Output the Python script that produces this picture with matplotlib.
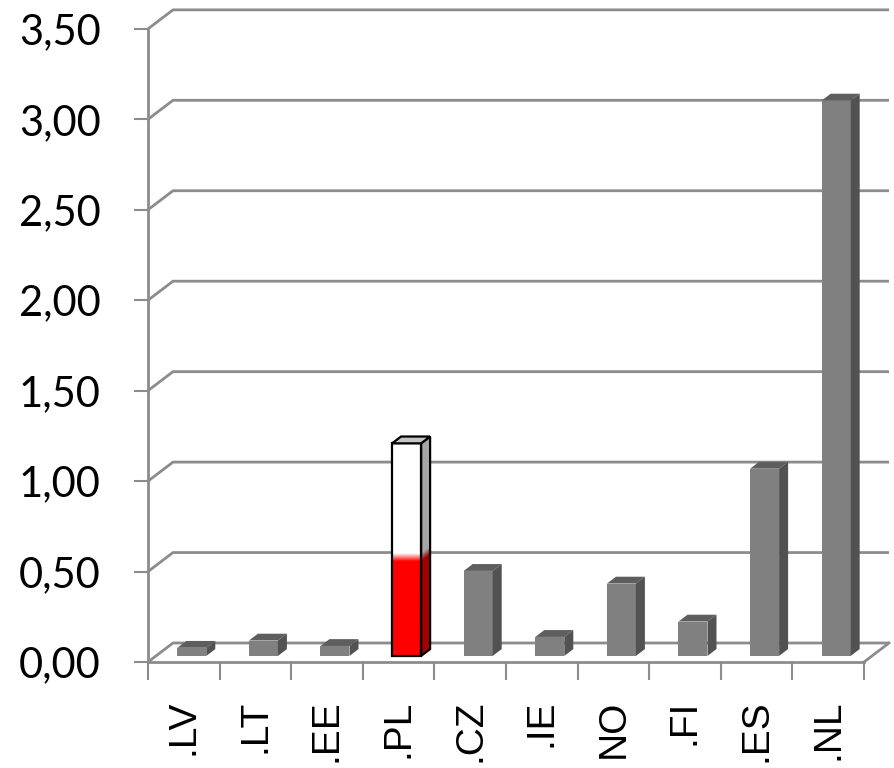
import numpy as np
import matplotlib
matplotlib.use("Agg")
import matplotlib.pyplot as plt
from matplotlib.patches import Polygon
from matplotlib.ticker import FuncFormatter
from matplotlib.colors import to_rgb

# ---- data -------------------------------------------------------------
categories = [".LV", ".LT", ".EE", ".PL", ".CZ", ".IE", "NO", ".FI", ".ES", ".NL"]
values = [0.045, 0.085, 0.055, 1.175, 0.47, 0.105, 0.40, 0.19, 1.035, 3.07]
highlight = ".PL"
flag_red_level = 0.545          # top of the red band on the flag-coloured bar
y_max = 3.5
y_step = 0.5

# ---- styling ----------------------------------------------------------
grid_col = "#8c8c8c"
bar_front = "#808080"
bar_top = "#5e5e5e"
bar_side = "#525252"

W, H = 895, 768
fig = plt.figure(figsize=(W / 100, H / 100), dpi=100)

# plot box in pixels (front floor edge at bottom, back wall reaches the top)
px_left, px_right, px_bottom, px_top = 148, 893, 662, 4
ax = fig.add_axes([px_left / W, 1 - px_bottom / H,
                   (px_right - px_left) / W, (px_bottom - px_top) / H])
px_per_cat = 71.6
px_per_unit = 180.9
n = len(categories)

# oblique depth of the "3-D" box, in data units
dxw = 25 / px_per_cat
dyw = 19 / px_per_unit
# bars sit in the middle of the depth
f0, fdepth = 0.32, 0.36
bw = 29 / px_per_cat
bdx, bdy = fdepth * dxw, fdepth * dyw

# back wall gridlines + side wall diagonals
for v in np.arange(0, y_max + 1e-9, y_step):
    ax.plot([0, dxw, n + dxw], [v, v + dyw, v + dyw], color=grid_col, lw=2,
            zorder=1, clip_on=False, solid_joinstyle="miter", solid_capstyle="butt")
# right edge of the floor
ax.plot([n, n + dxw], [0, dyw], color=grid_col, lw=2, zorder=1, clip_on=False)


def blend(c1, c2, t):
    c1, c2 = np.array(to_rgb(c1)), np.array(to_rgb(c2))
    t = np.asarray(t)[..., None]
    return c1 * (1 - t) + c2 * t


soft = 8 / px_per_unit

for i, (cat, v) in enumerate(zip(categories, values)):
    x0 = i + 0.5 - bw / 2 + f0 * dxw
    y0 = f0 * dyw
    front = [(x0, y0), (x0 + bw, y0), (x0 + bw, y0 + v), (x0, y0 + v)]
    top = [(x0, y0 + v), (x0 + bw, y0 + v), (x0 + bw + bdx, y0 + v + bdy), (x0 + bdx, y0 + v + bdy)]
    side = [(x0 + bw, y0), (x0 + bw + bdx, y0 + bdy), (x0 + bw + bdx, y0 + v + bdy), (x0 + bw, y0 + v)]

    if cat != highlight:
        ax.add_patch(Polygon(front, closed=True, fc=bar_front, ec="none", zorder=3))
        ax.add_patch(Polygon(top, closed=True, fc=bar_top, ec="none", zorder=3))
        ax.add_patch(Polygon(side, closed=True, fc=bar_side, ec="none", zorder=3))
        continue

    # flag-coloured bar: red lower band fading into white
    hh = np.linspace(0, v, 400)
    t = np.clip((hh - (flag_red_level - soft / 2)) / soft, 0, 1)
    img = blend("#ff0000", "#ffffff", t)[:, None, :]
    ax.imshow(img, extent=[x0, x0 + bw, y0, y0 + v], origin="lower",
              aspect="auto", interpolation="bilinear", zorder=3)
    ax.add_patch(Polygon(front, closed=True, fill=False, ec="black", lw=1.6, zorder=4))

    side_patch = Polygon(side, closed=True, fc="none", ec="none", zorder=3)
    ax.add_patch(side_patch)
    xs = np.linspace(x0 + bw, x0 + bw + bdx, 20)
    ys = np.linspace(y0, y0 + v + bdy, 400)
    XX, YY = np.meshgrid(xs, ys)
    hs = YY - y0 - (XX - (x0 + bw)) * bdy / bdx
    ts = np.clip((hs - (flag_red_level - soft / 2)) / soft, 0, 1)
    simg = blend("#a30000", "#a6a6a6", ts)
    im = ax.imshow(simg, extent=[x0 + bw, x0 + bw + bdx, y0, y0 + v + bdy], origin="lower",
                   aspect="auto", interpolation="bilinear", zorder=3)
    im.set_clip_path(side_patch)
    ax.add_patch(Polygon(side, closed=True, fill=False, ec="black", lw=1.6, zorder=4))
    ax.add_patch(Polygon(top, closed=True, fc="#c4c4c4", ec="black", lw=1.6, zorder=4))

# ---- axes -------------------------------------------------------------
ax.set_xlim(0, (px_right - px_left) / px_per_cat)
ax.set_ylim(0, (px_bottom - px_top) / px_per_unit)
ax.set_aspect("auto")
ax.patch.set_visible(False)

for s in ("top", "right"):
    ax.spines[s].set_visible(False)
ax.spines["left"].set_bounds(0, y_max)
ax.spines["bottom"].set_bounds(0, n)
for s in ("left", "bottom"):
    ax.spines[s].set_color(grid_col)
    ax.spines[s].set_linewidth(2)
    ax.spines[s].set_zorder(2)

ax.set_yticks(np.arange(0, y_max + 1e-9, y_step))
ax.yaxis.set_major_formatter(FuncFormatter(lambda v, p: f"{v:.2f}".replace(".", ",")))
ax.tick_params(axis="y", direction="out", length=10, width=1.5, color=grid_col,
               pad=24, labelsize=30)
for lab in ax.get_yticklabels():
    lab.set_fontfamily("Lato")

ax.set_xticks(np.arange(n) + 0.5, labels=categories, rotation=90)
ax.set_xticks(np.arange(n + 1), minor=True)
ax.tick_params(axis="x", which="major", length=0, pad=27, labelsize=28)
ax.tick_params(axis="x", which="minor", direction="out", length=13, width=1.5, color=grid_col)
for lab in ax.get_xticklabels():
    lab.set_fontfamily("Liberation Sans")

fig.savefig("out.png", dpi=100)
